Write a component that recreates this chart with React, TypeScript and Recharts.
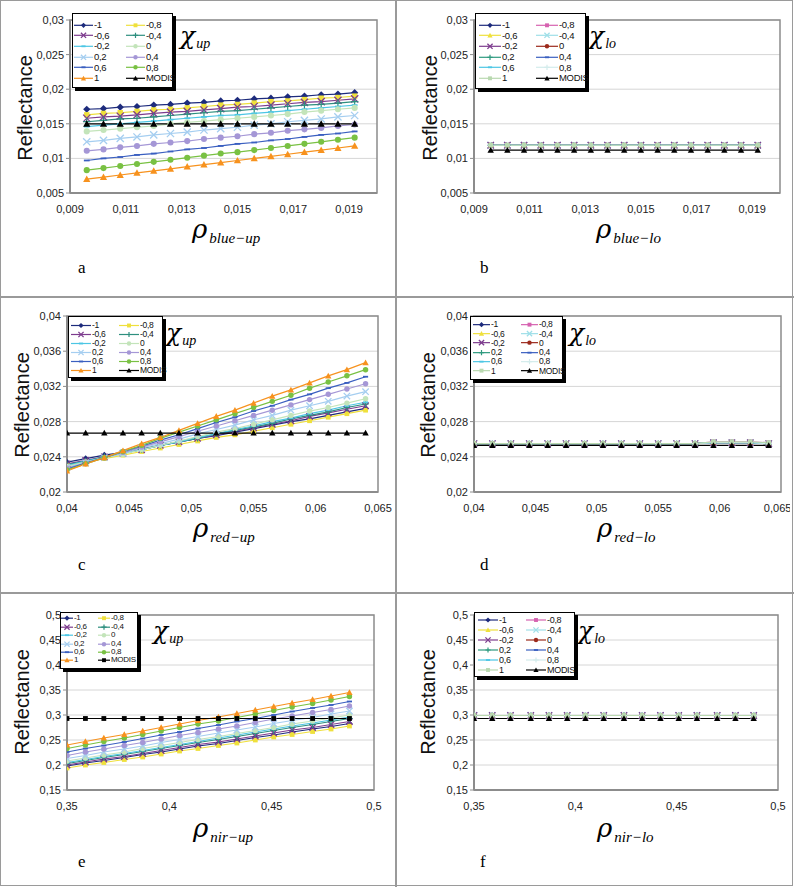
import { LineChart, Line, XAxis, YAxis, CartesianGrid, ReferenceArea } from 'recharts'

// series labels, same order as the Excel legends (row-major, two columns)
const seriesNames = ['-1', '-0,8', '-0,6', '-0,4', '-0,2', '0', '0,2', '0,4', '0,6', '0,8', '1', 'MODIS']

// x positions of the points
const xBlue = [0.0096, 0.0102, 0.0108, 0.0114, 0.012, 0.0126, 0.0132, 0.0138, 0.0144, 0.015, 0.0156, 0.0162, 0.0168, 0.0174, 0.018, 0.0186, 0.0192]
const xRed = [0.04, 0.0415, 0.043, 0.0445, 0.046, 0.0475, 0.049, 0.0505, 0.052, 0.0535, 0.055, 0.0565, 0.058, 0.0595, 0.061, 0.0625, 0.064]
const xNir = [0.35, 0.359, 0.368, 0.378, 0.387, 0.396, 0.405, 0.414, 0.424, 0.433, 0.442, 0.451, 0.46, 0.47, 0.479, 0.488]

// ticks
const blueXTicks = [0.009, 0.011, 0.013, 0.015, 0.017, 0.019]
const blueYTicks = [0.005, 0.01, 0.015, 0.02, 0.025, 0.03]
const redXTicks = [0.04, 0.045, 0.05, 0.055, 0.06, 0.065]
const redYTicks = [0.02, 0.024, 0.028, 0.032, 0.036, 0.04]
const nirXTicks = [0.35, 0.4, 0.45, 0.5]
const nirYTicks = [0.15, 0.2, 0.25, 0.3, 0.35, 0.4, 0.45, 0.5]

// panel a : chi up, blue
const blueUp = [
  [0.0171, 0.0172, 0.0174, 0.0175, 0.0177, 0.0178, 0.018, 0.0181, 0.0183, 0.0184, 0.0186, 0.0187, 0.0189, 0.019, 0.0192, 0.0193, 0.0195],
  [0.0163, 0.0165, 0.0166, 0.0168, 0.017, 0.0171, 0.0173, 0.0175, 0.0177, 0.0178, 0.018, 0.0182, 0.0183, 0.0185, 0.0187, 0.0188, 0.019],
  [0.0158, 0.016, 0.0161, 0.0163, 0.0165, 0.0167, 0.0168, 0.017, 0.0172, 0.0174, 0.0175, 0.0177, 0.0179, 0.0181, 0.0182, 0.0184, 0.0186],
  [0.0153, 0.0155, 0.0157, 0.0158, 0.016, 0.0162, 0.0164, 0.0166, 0.0168, 0.0169, 0.0171, 0.0173, 0.0175, 0.0177, 0.0178, 0.018, 0.0182],
  [0.0146, 0.0148, 0.015, 0.0152, 0.0154, 0.0156, 0.0158, 0.016, 0.0162, 0.0163, 0.0165, 0.0167, 0.0169, 0.0171, 0.0173, 0.0175, 0.0177],
  [0.0139, 0.0141, 0.0143, 0.0145, 0.0147, 0.015, 0.0152, 0.0154, 0.0156, 0.0158, 0.016, 0.0162, 0.0164, 0.0167, 0.0169, 0.0171, 0.0173],
  [0.0124, 0.0126, 0.0129, 0.0131, 0.0134, 0.0136, 0.0138, 0.0141, 0.0143, 0.0145, 0.0148, 0.015, 0.0153, 0.0155, 0.0157, 0.016, 0.0162],
  [0.0111, 0.0113, 0.0116, 0.0118, 0.0121, 0.0123, 0.0125, 0.0128, 0.013, 0.0132, 0.0135, 0.0137, 0.014, 0.0142, 0.0144, 0.0147, 0.0149],
  [0.0097, 0.01, 0.0102, 0.0105, 0.0107, 0.011, 0.0113, 0.0115, 0.0118, 0.0121, 0.0123, 0.0126, 0.0128, 0.0131, 0.0134, 0.0136, 0.0139],
  [0.0083, 0.0086, 0.0089, 0.0092, 0.0095, 0.0098, 0.0101, 0.0104, 0.0107, 0.0109, 0.0112, 0.0115, 0.0118, 0.0121, 0.0124, 0.0127, 0.013],
  [0.007, 0.0073, 0.0076, 0.0079, 0.0082, 0.0085, 0.0088, 0.0091, 0.0094, 0.0097, 0.01, 0.0103, 0.0106, 0.0109, 0.0112, 0.0115, 0.0118],
  [0.015, 0.015, 0.015, 0.015, 0.015, 0.015, 0.015, 0.015, 0.015, 0.015, 0.015, 0.015, 0.015, 0.015, 0.015, 0.015, 0.015],
]

// panel b : chi lo, blue (all chi curves sit on one level)
const blueLoLevel = [0.0119, 0.0119, 0.0119, 0.0119, 0.0119, 0.0119, 0.0119, 0.0119, 0.0119, 0.0119, 0.0119, 0.0119, 0.0119, 0.0119, 0.0119, 0.0119, 0.0119]
const blueLoModis = [0.0112, 0.0112, 0.0112, 0.0112, 0.0112, 0.0112, 0.0112, 0.0112, 0.0112, 0.0112, 0.0112, 0.0112, 0.0112, 0.0112, 0.0112, 0.0112, 0.0112]

// panel c : chi up, red
const redUp = [
  [0.0234, 0.0238, 0.0242, 0.0245, 0.0249, 0.0253, 0.0257, 0.0261, 0.0264, 0.0268, 0.0272, 0.0276, 0.028, 0.0283, 0.0287, 0.0291, 0.0295],
  [0.023, 0.0234, 0.0238, 0.0242, 0.0246, 0.025, 0.0254, 0.0258, 0.0262, 0.0265, 0.0269, 0.0273, 0.0277, 0.0281, 0.0285, 0.0289, 0.0293],
  [0.0232, 0.0236, 0.024, 0.0244, 0.0248, 0.0253, 0.0257, 0.0261, 0.0265, 0.0269, 0.0273, 0.0277, 0.0281, 0.0286, 0.029, 0.0294, 0.0298],
  [0.0231, 0.0235, 0.024, 0.0244, 0.0248, 0.0253, 0.0257, 0.0261, 0.0266, 0.027, 0.0274, 0.0278, 0.0283, 0.0287, 0.0291, 0.0296, 0.03],
  [0.023, 0.0235, 0.0239, 0.0244, 0.0248, 0.0253, 0.0257, 0.0262, 0.0266, 0.0271, 0.0275, 0.028, 0.0284, 0.0289, 0.0293, 0.0298, 0.0302],
  [0.0229, 0.0234, 0.0239, 0.0243, 0.0248, 0.0253, 0.0258, 0.0263, 0.0268, 0.0272, 0.0277, 0.0282, 0.0287, 0.0292, 0.0296, 0.0301, 0.0306],
  [0.0228, 0.0233, 0.0239, 0.0244, 0.025, 0.0255, 0.026, 0.0266, 0.0271, 0.0276, 0.0282, 0.0287, 0.0293, 0.0298, 0.0303, 0.0309, 0.0314],
  [0.0227, 0.0233, 0.0239, 0.0245, 0.0251, 0.0257, 0.0263, 0.0269, 0.0275, 0.0281, 0.0287, 0.0293, 0.0299, 0.0305, 0.0311, 0.0317, 0.0323],
  [0.0226, 0.0233, 0.0239, 0.0246, 0.0252, 0.0259, 0.0265, 0.0272, 0.0279, 0.0285, 0.0292, 0.0298, 0.0305, 0.0311, 0.0318, 0.0324, 0.0331],
  [0.0225, 0.0232, 0.0239, 0.0246, 0.0253, 0.0261, 0.0268, 0.0275, 0.0282, 0.0289, 0.0296, 0.0303, 0.031, 0.0318, 0.0325, 0.0332, 0.0339],
  [0.0224, 0.0232, 0.0239, 0.0247, 0.0255, 0.0262, 0.027, 0.0278, 0.0286, 0.0293, 0.0301, 0.0309, 0.0316, 0.0324, 0.0332, 0.0339, 0.0347],
  [0.0267, 0.0267, 0.0267, 0.0267, 0.0267, 0.0267, 0.0267, 0.0267, 0.0267, 0.0267, 0.0267, 0.0267, 0.0267, 0.0267, 0.0267, 0.0267, 0.0267],
]

// panel d : chi lo, red
const redLoLevel = [0.0255, 0.0255, 0.0255, 0.0255, 0.0255, 0.0255, 0.0255, 0.0255, 0.0255, 0.0255, 0.0255, 0.0255, 0.0255, 0.0256, 0.0256, 0.0256, 0.0255]
const redLoPink = [0.0255, 0.0255, 0.0255, 0.0255, 0.0255, 0.0255, 0.0255, 0.0255, 0.0255, 0.0255, 0.0255, 0.0255, 0.0255, 0.0257, 0.0257, 0.0257, 0.0256]
const redLoModis = [0.0253, 0.0253, 0.0253, 0.0253, 0.0253, 0.0253, 0.0253, 0.0253, 0.0253, 0.0253, 0.0253, 0.0253, 0.0253, 0.0253, 0.0253, 0.0253, 0.0253]

// panel e : chi up, nir
const nirUp = [
  [0.198, 0.204, 0.209, 0.215, 0.221, 0.226, 0.232, 0.238, 0.243, 0.249, 0.255, 0.26, 0.266, 0.272, 0.277, 0.283],
  [0.194, 0.2, 0.205, 0.211, 0.216, 0.222, 0.228, 0.233, 0.239, 0.244, 0.25, 0.256, 0.261, 0.267, 0.272, 0.278],
  [0.2, 0.206, 0.212, 0.217, 0.223, 0.229, 0.235, 0.241, 0.246, 0.252, 0.258, 0.264, 0.27, 0.275, 0.281, 0.287],
  [0.203, 0.209, 0.215, 0.221, 0.227, 0.233, 0.239, 0.245, 0.251, 0.257, 0.263, 0.269, 0.275, 0.281, 0.287, 0.293],
  [0.205, 0.211, 0.217, 0.223, 0.229, 0.235, 0.241, 0.247, 0.254, 0.26, 0.266, 0.272, 0.278, 0.284, 0.29, 0.296],
  [0.208, 0.214, 0.22, 0.226, 0.233, 0.239, 0.245, 0.251, 0.257, 0.263, 0.269, 0.275, 0.282, 0.288, 0.294, 0.3],
  [0.213, 0.219, 0.226, 0.232, 0.238, 0.245, 0.251, 0.257, 0.264, 0.27, 0.276, 0.283, 0.289, 0.295, 0.302, 0.308],
  [0.219, 0.226, 0.232, 0.239, 0.245, 0.252, 0.259, 0.265, 0.272, 0.278, 0.285, 0.292, 0.298, 0.305, 0.311, 0.318],
  [0.226, 0.233, 0.239, 0.246, 0.253, 0.26, 0.266, 0.273, 0.28, 0.287, 0.293, 0.3, 0.307, 0.314, 0.32, 0.327],
  [0.233, 0.24, 0.247, 0.254, 0.261, 0.268, 0.275, 0.282, 0.288, 0.295, 0.302, 0.309, 0.316, 0.323, 0.33, 0.337],
  [0.24, 0.247, 0.254, 0.261, 0.268, 0.275, 0.282, 0.289, 0.296, 0.303, 0.31, 0.317, 0.324, 0.331, 0.338, 0.345],
  [0.293, 0.293, 0.293, 0.293, 0.293, 0.293, 0.293, 0.293, 0.293, 0.293, 0.293, 0.293, 0.293, 0.293, 0.293, 0.293],
]

// panel f : chi lo, nir
const nirLoLevel = [0.299, 0.299, 0.299, 0.299, 0.299, 0.299, 0.299, 0.299, 0.299, 0.299, 0.299, 0.299, 0.299, 0.299, 0.299, 0.299]
const nirLoModis = [0.293, 0.293, 0.293, 0.293, 0.293, 0.293, 0.293, 0.293, 0.293, 0.293, 0.293, 0.293, 0.293, 0.293, 0.293, 0.293]

const blueLo = [blueLoLevel, blueLoLevel, blueLoLevel, blueLoLevel, blueLoLevel, blueLoLevel, blueLoLevel, blueLoLevel, blueLoLevel, blueLoLevel, blueLoLevel, blueLoModis]
const redLo = [redLoLevel, redLoPink, redLoLevel, redLoLevel, redLoLevel, redLoLevel, redLoLevel, redLoLevel, redLoLevel, redLoLevel, redLoPink, redLoModis]
const nirLo = [nirLoLevel, nirLoLevel, nirLoLevel, nirLoLevel, nirLoLevel, nirLoLevel, nirLoLevel, nirLoLevel, nirLoLevel, nirLoLevel, nirLoLevel, nirLoModis]

type Shape = 'diamond' | 'triangle' | 'square' | 'circle' | 'x' | 'plus' | 'dash'
type Style = { color: string; shape: Shape }

const upStyle: Style[] = [
  { color: '#1d2b7c', shape: 'diamond' },
  { color: '#efe03c', shape: 'square' },
  { color: '#7d3c8e', shape: 'x' },
  { color: '#2e8f7f', shape: 'plus' },
  { color: '#4cc6e4', shape: 'dash' },
  { color: '#c3e4ba', shape: 'circle' },
  { color: '#a5cef0', shape: 'x' },
  { color: '#a597d6', shape: 'circle' },
  { color: '#3a5fc0', shape: 'dash' },
  { color: '#79c143', shape: 'circle' },
  { color: '#f7921e', shape: 'triangle' },
  { color: '#000000', shape: 'triangle' },
]

const loStyle: Style[] = [
  { color: '#1d2b7c', shape: 'diamond' },
  { color: '#d662b0', shape: 'square' },
  { color: '#efe03c', shape: 'triangle' },
  { color: '#9fdfe8', shape: 'x' },
  { color: '#7d3c8e', shape: 'x' },
  { color: '#9c2a1c', shape: 'circle' },
  { color: '#2e9a7f', shape: 'plus' },
  { color: '#3a5fc0', shape: 'dash' },
  { color: '#4cc6e4', shape: 'dash' },
  { color: '#d3ecec', shape: 'plus' },
  { color: '#b9d9b0', shape: 'square' },
  { color: '#000000', shape: 'triangle' },
]

const fmt = (v: number) => String(v).replace('.', ',')
const sans = '"Liberation Sans", Arial, sans-serif'
const serif = '"Liberation Serif", "Times New Roman", serif'
const greek = '"DejaVu Serif", "Liberation Serif", serif'
const axisGrey = '#8c8c8c'

function Marker({ cx, cy, shape, color, r }: { cx?: number; cy?: number; shape: Shape; color: string; r: number }) {
  if (cx == null || cy == null) return <g />
  switch (shape) {
    case 'diamond':
      return <polygon points={`${cx},${cy - r} ${cx + r},${cy} ${cx},${cy + r} ${cx - r},${cy}`} fill={color} />
    case 'triangle':
      return <polygon points={`${cx},${cy - r} ${cx + r},${cy + r * 0.8} ${cx - r},${cy + r * 0.8}`} fill={color} />
    case 'square':
      return <rect x={cx - r * 0.75} y={cy - r * 0.75} width={r * 1.5} height={r * 1.5} fill={color} />
    case 'circle':
      return <circle cx={cx} cy={cy} r={r * 0.85} fill={color} />
    case 'x':
      return <path d={`M${cx - r},${cy - r}L${cx + r},${cy + r}M${cx - r},${cy + r}L${cx + r},${cy - r}`} stroke={color} strokeWidth={1.3} />
    case 'plus':
      return <path d={`M${cx - r},${cy}L${cx + r},${cy}M${cx},${cy - r}L${cx},${cy + r}`} stroke={color} strokeWidth={1.2} />
    default:
      return <path d={`M${cx - r * 0.8},${cy}L${cx + r * 0.8},${cy}`} stroke={color} strokeWidth={1.8} />
  }
}

type Geo = { left: number; top: number; width: number; height: number; plotLeft: number; plotTop: number; plotRight: number; plotBottom: number }

function Panel(props: {
  geo: Geo
  styles: Style[]
  values: number[][]
  xs: number[]
  xDomain: [number, number]
  xTicks: number[]
  yDomain: [number, number]
  yTicks: number[]
  r: number
  modisShape?: Shape
}) {
  const g = props.geo
  const yAxisW = 44
  const xAxisH = 24
  const margin = {
    top: g.plotTop - g.top,
    right: g.left + g.width - g.plotRight,
    left: g.plotLeft - g.left - yAxisW,
    bottom: g.top + g.height - g.plotBottom - xAxisH,
  }
  const series = props.values.map((vals, i) => ({
    name: seriesNames[i],
    style: i === 11 && props.modisShape ? { ...props.styles[i], shape: props.modisShape } : props.styles[i],
    data: props.xs.map((x, j) => ({ x, y: vals[j] })),
  }))
  const tick = { fontSize: 11, fill: '#222', fontFamily: sans }
  return (
    <div style={{ position: 'absolute', left: g.left, top: g.top, width: g.width, height: g.height, overflow: 'hidden' }}>
      <LineChart width={g.width} height={g.height} margin={margin}>
        <CartesianGrid vertical={false} stroke="#d6d6d6" />
        <XAxis
          type="number"
          dataKey="x"
          domain={props.xDomain}
          ticks={props.xTicks}
          tickFormatter={fmt}
          height={xAxisH}
          axisLine={{ stroke: axisGrey, strokeWidth: 2 }}
          tickLine={false}
          tickMargin={6}
          tick={tick}
          allowDataOverflow
        />
        <YAxis
          type="number"
          domain={props.yDomain}
          ticks={props.yTicks}
          tickFormatter={fmt}
          width={yAxisW}
          axisLine={{ stroke: axisGrey, strokeWidth: 2 }}
          tickLine={{ stroke: axisGrey }}
          tickSize={4}
          tick={tick}
          allowDataOverflow
        />
        <ReferenceArea
          x1={props.xDomain[0]}
          x2={props.xDomain[1]}
          y1={props.yDomain[0]}
          y2={props.yDomain[1]}
          fill="none"
          stroke={axisGrey}
          strokeWidth={1.5}
        />
        {series.map((s) => (
          <Line
            key={s.name}
            data={s.data}
            dataKey="y"
            name={s.name}
            stroke={s.style.color}
            strokeWidth={1.2}
            isAnimationActive={false}
            dot={(p: any) => (
              <Marker key={`${s.name}-${p.index}`} cx={p.cx} cy={p.cy} shape={s.style.shape} color={s.style.color} r={props.r} />
            )}
            activeDot={false}
          />
        ))}
      </LineChart>
    </div>
  )
}

type LegendGeo = { left: number; top: number; width: number; height: number; rowH: number; padTop: number; c1: number; c2: number; symW: number; fontSize: number }

function LegendBox({ styles, box, modisShape }: { styles: Style[]; box: LegendGeo; modisShape?: Shape }) {
  return (
    <div
      style={{
        position: 'absolute',
        left: box.left,
        top: box.top,
        width: box.width,
        height: box.height,
        background: '#fff',
        border: '1px solid #000',
        boxShadow: '3px 3px 0 #000',
        boxSizing: 'border-box',
        fontFamily: sans,
        fontSize: box.fontSize,
        letterSpacing: -0.3,
        color: '#111',
      }}
    >
      {seriesNames.map((n, i) => {
        const row = Math.floor(i / 2)
        const col = i % 2
        const st = i === 11 && modisShape ? { ...styles[i], shape: modisShape } : styles[i]
        const cy = box.padTop + row * box.rowH
        return (
          <div
            key={n}
            style={{ position: 'absolute', left: col ? box.c2 : box.c1, top: cy - box.rowH / 2, height: box.rowH, display: 'flex', alignItems: 'center', whiteSpace: 'nowrap' }}
          >
            <svg width={box.symW} height={box.rowH} style={{ display: 'block' }}>
              <line x1={0} x2={box.symW} y1={box.rowH / 2} y2={box.rowH / 2} stroke={st.color} strokeWidth={1.2} />
              <Marker cx={box.symW / 2} cy={box.rowH / 2} shape={st.shape} color={st.color} r={2.6} />
            </svg>
            <span style={{ marginLeft: 1, lineHeight: 1 }}>{n}</span>
          </div>
        )
      })}
    </div>
  )
}

function Chi({ left, top, sub }: { left: number; top: number; sub: string }) {
  return (
    <div style={{ position: 'absolute', left, top, whiteSpace: 'nowrap', lineHeight: 1 }}>
      <span style={{ fontSize: 25, fontFamily: greek, fontStyle: 'italic' }}>χ</span>
      <span style={{ fontSize: 14, fontFamily: serif, fontStyle: 'italic', position: 'relative', top: 4, marginLeft: 1 }}>{sub}</span>
    </div>
  )
}

function Rho({ left, top, sub }: { left: number; top: number; sub: string }) {
  return (
    <div style={{ position: 'absolute', left, top, whiteSpace: 'nowrap', lineHeight: 1 }}>
      <span style={{ fontSize: 26, fontFamily: greek, fontStyle: 'italic' }}>ρ</span>
      <span style={{ fontSize: 15, fontFamily: serif, fontStyle: 'italic', position: 'relative', top: 5, marginLeft: 2 }}>{sub}</span>
    </div>
  )
}

function YTitle({ cx, cy }: { cx: number; cy: number }) {
  return (
    <div
      style={{
        position: 'absolute',
        left: cx,
        top: cy,
        transform: 'translate(-50%, -50%) rotate(-90deg)',
        fontFamily: sans,
        fontSize: 20,
        whiteSpace: 'nowrap',
        color: '#111',
      }}
    >
      Reflectance
    </div>
  )
}

function Letter({ left, top, text }: { left: number; top: number; text: string }) {
  return <div style={{ position: 'absolute', left, top, fontFamily: serif, fontSize: 17, lineHeight: 1 }}>{text}</div>
}

const rule = '#9a9a9a'

export default function App() {
  return (
    <div style={{ position: 'absolute', left: 0, top: 0, width: 794, height: 887, background: '#fff', overflow: 'hidden' }}>
      <Panel
        geo={{ left: 0, top: 0, width: 396, height: 296, plotLeft: 70, plotTop: 20, plotRight: 377, plotBottom: 193 }}
        styles={upStyle}
        values={blueUp}
        xs={xBlue}
        xDomain={[0.009, 0.02]}
        xTicks={blueXTicks}
        yDomain={[0.005, 0.03]}
        yTicks={blueYTicks}
        r={3.6}
      />
      <Panel
        geo={{ left: 396, top: 0, width: 394, height: 296, plotLeft: 474, plotTop: 20, plotRight: 780, plotBottom: 193 }}
        styles={loStyle}
        values={blueLo}
        xs={xBlue}
        xDomain={[0.009, 0.02]}
        xTicks={blueXTicks}
        yDomain={[0.005, 0.03]}
        yTicks={blueYTicks}
        r={3.2}
      />
      <Panel
        geo={{ left: 0, top: 296, width: 396, height: 296, plotLeft: 67, plotTop: 316, plotRight: 378, plotBottom: 492 }}
        styles={upStyle}
        values={redUp}
        xs={xRed}
        xDomain={[0.04, 0.065]}
        xTicks={redXTicks}
        yDomain={[0.02, 0.04]}
        yTicks={redYTicks}
        r={3.2}
      />
      <Panel
        geo={{ left: 396, top: 296, width: 394, height: 296, plotLeft: 474, plotTop: 316, plotRight: 781, plotBottom: 492 }}
        styles={loStyle}
        values={redLo}
        xs={xRed}
        xDomain={[0.04, 0.065]}
        xTicks={redXTicks}
        yDomain={[0.02, 0.04]}
        yTicks={redYTicks}
        r={3.2}
      />
      <Panel
        geo={{ left: 0, top: 592, width: 396, height: 294, plotLeft: 67, plotTop: 615, plotRight: 374, plotBottom: 790 }}
        styles={upStyle}
        values={nirUp}
        xs={xNir}
        xDomain={[0.35, 0.5]}
        xTicks={nirXTicks}
        yDomain={[0.15, 0.5]}
        yTicks={nirYTicks}
        r={3.2}
        modisShape="square"
      />
      <Panel
        geo={{ left: 396, top: 592, width: 394, height: 294, plotLeft: 474, plotTop: 615, plotRight: 778, plotBottom: 790 }}
        styles={loStyle}
        values={nirLo}
        xs={xNir}
        xDomain={[0.35, 0.5]}
        xTicks={nirXTicks}
        yDomain={[0.15, 0.5]}
        yTicks={nirYTicks}
        r={3.2}
      />

      <LegendBox styles={upStyle} box={{ left: 72, top: 13, width: 101, height: 75, rowH: 10.6, padTop: 11, c1: 1, c2: 53, symW: 19, fontSize: 9.5 }} />
      <LegendBox styles={loStyle} box={{ left: 475, top: 13, width: 111, height: 76, rowH: 10.6, padTop: 11, c1: 3, c2: 60, symW: 22, fontSize: 9.5 }} />
      <LegendBox styles={upStyle} box={{ left: 68, top: 316, width: 95, height: 62, rowH: 9, padTop: 8, c1: 2, c2: 50, symW: 20, fontSize: 8.5 }} />
      <LegendBox styles={loStyle} box={{ left: 470, top: 316, width: 93, height: 64, rowH: 9.3, padTop: 7.5, c1: 2, c2: 50, symW: 17, fontSize: 8.5 }} />
      <LegendBox styles={upStyle} modisShape="square" box={{ left: 60, top: 612, width: 78, height: 57, rowH: 8.4, padTop: 5.5, c1: 0, c2: 37, symW: 12, fontSize: 8 }} />
      <LegendBox styles={loStyle} box={{ left: 474, top: 612, width: 101, height: 65, rowH: 10, padTop: 7, c1: 3, c2: 51, symW: 20, fontSize: 9 }} />

      <Chi left={180} top={23} sub="up" />
      <Chi left={589} top={23} sub="lo" />
      <Chi left={166} top={320} sub="up" />
      <Chi left={569} top={320} sub="lo" />
      <Chi left={153} top={618} sub="up" />
      <Chi left={578} top={618} sub="lo" />

      <YTitle cx={25} cy={108} />
      <YTitle cx={430} cy={108} />
      <YTitle cx={22} cy={405} />
      <YTitle cx={428} cy={405} />
      <YTitle cx={22} cy={702} />
      <YTitle cx={428} cy={702} />

      <Rho left={192} top={216} sub="blue−up" />
      <Rho left={596} top={216} sub="blue−lo" />
      <Rho left={193} top={515} sub="red−up" />
      <Rho left={597} top={515} sub="red−lo" />
      <Rho left={193} top={815} sub="nir−up" />
      <Rho left={597} top={815} sub="nir−lo" />

      <Letter left={78} top={259} text="a" />
      <Letter left={480} top={259} text="b" />
      <Letter left={78} top={556} text="c" />
      <Letter left={480} top={556} text="d" />
      <Letter left={78} top={853} text="e" />
      <Letter left={480} top={853} text="f" />

      {/* table rules */}
      <div style={{ position: 'absolute', left: 0, top: 0, width: 793, height: 886, border: `1px solid ${rule}`, boxSizing: 'border-box' }} />
      <div style={{ position: 'absolute', left: 395, top: 0, width: 1.5, height: 887, background: rule }} />
      <div style={{ position: 'absolute', left: 0, top: 296, width: 794, height: 1.5, background: rule }} />
      <div style={{ position: 'absolute', left: 0, top: 592, width: 794, height: 1.5, background: rule }} />
    </div>
  )
}
